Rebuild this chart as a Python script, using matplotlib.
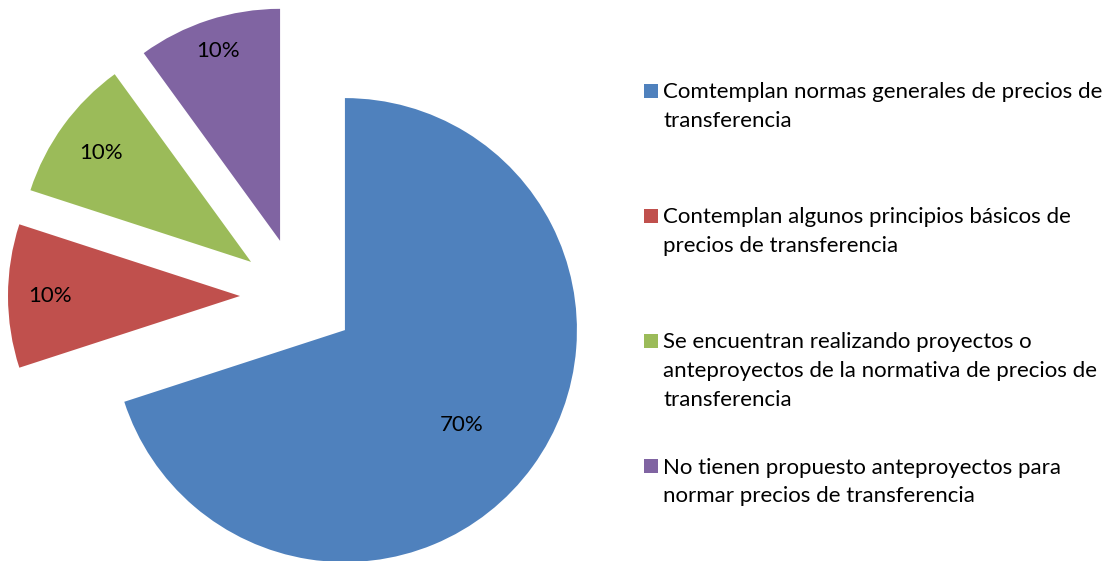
import numpy as np
import matplotlib
matplotlib.use("Agg")
import matplotlib.pyplot as plt
from matplotlib.patches import Rectangle

# ==========================================
# Data
# ==========================================

labels = [
    "Comtemplan normas generales de precios de\ntransferencia",
    "Contemplan algunos principios básicos de\nprecios de transferencia",
    "Se encuentran realizando proyectos o\nanteproyectos de la normativa de precios de\ntransferencia",
    "No tienen propuesto anteproyectos para\nnormar precios de transferencia",
]
values = [70, 10, 10, 10]
pct_labels = ["70%", "10%", "10%", "10%"]
colors = ["#4F81BD", "#C0504D", "#9BBB59", "#8064A2"]

plt.rcParams["font.family"] = ["Lato", "DejaVu Sans"]

# ==========================================
# Figure (1 data unit = pie radius = 232 px)
# ==========================================

W, H = 1112, 561
R = 232.0
cx, cy = 298, 296  # pie centre in pixels (from top-left)

fig = plt.figure(figsize=(W / 100, H / 100), dpi=100)
ax = fig.add_axes([0, 0, 1, 1])

wedges, _ = ax.pie(
    values,
    colors=colors,
    startangle=90,
    counterclock=False,
    explode=[0.25] * len(values),
    radius=1,
    center=(0, 0),
)

ax.set_aspect("auto")
ax.set_xlim(-cx / R, (W - cx) / R)
ax.set_ylim(-(H - cy) / R, cy / R)
ax.axis("off")

# percentage labels (Excel "best fit" style positions)
label_dist = [0.65, 0.82, 0.80, 0.86]
label_shift = [-3, 0, 0, 0]  # degrees
for w, txt, d, s in zip(wedges, pct_labels, label_dist, label_shift):
    ang = np.deg2rad((w.theta1 + w.theta2) / 2 + s)
    x0, y0 = w.center
    ax.text(x0 + d * np.cos(ang), y0 + d * np.sin(ang), txt,
            ha="center", va="center", fontsize=16, color="black")

# ==========================================
# Legend (drawn by hand, evenly spaced slots)
# ==========================================

top_px = 90.5
step_px = 125.2
for i, (lab, col) in enumerate(zip(labels, colors)):
    y = 1 - (top_px + i * step_px) / H
    fig.patches.append(Rectangle((644 / W, y - 7 / H), 14 / W, 14 / H,
                                 transform=fig.transFigure, facecolor=col,
                                 edgecolor="none"))
    fig.text(663 / W, y + 8.5 / H, lab, ha="left", va="top",
             fontsize=16, color="black", linespacing=1.54)

fig.savefig("out.png", dpi=100)
